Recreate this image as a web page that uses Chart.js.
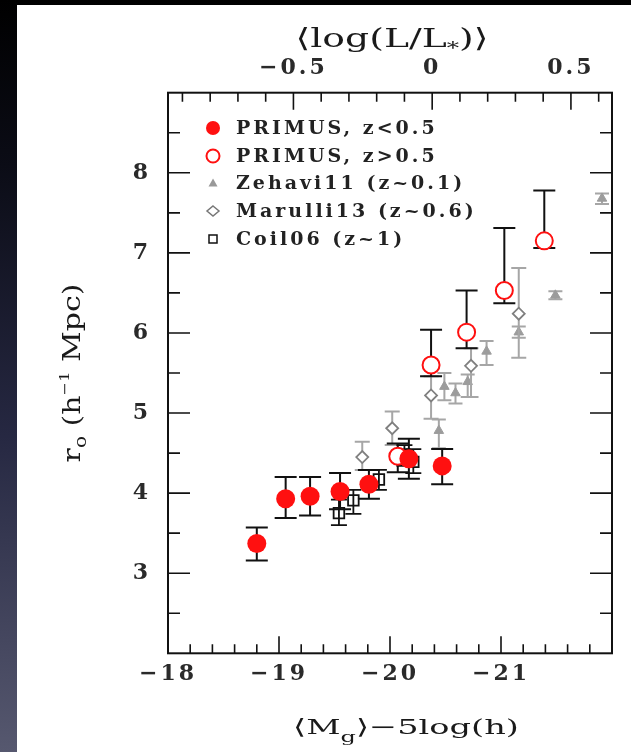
<!DOCTYPE html>
<html>
<head>
<meta charset="utf-8">
<script src="https://cdn.jsdelivr.net/npm/chart.js@4.4.1/dist/chart.umd.min.js"></script>
<style>
  html, body { margin: 0; padding: 0; }
  body {
    width: 631px; height: 752px; overflow: hidden; position: relative;
    background: linear-gradient(to bottom, #000 0%, #0b0c16 22%, #262842 58%, #56586f 100%);
  }
  #paper { position: absolute; left: 17px; top: 5px; width: 614px; height: 747px; background: #fff; }
  #wrap { position: absolute; left: 0; top: 0; width: 631px; height: 752px; }
</style>
</head>
<body>
<div id="paper"></div>
<div id="wrap"><canvas id="myChart"></canvas></div>
<script>
// PRIMUS, z<0.5
var primusLowMag = [-18.80, -19.06, -19.28, -19.55, -19.81, -20.17, -20.47];
var primusLowR0  = [3.37, 3.93, 3.96, 4.02, 4.11, 4.43, 4.34];
var primusLowLo  = [3.16, 3.69, 3.72, 3.80, 3.93, 4.18, 4.11];
var primusLowHi  = [3.57, 4.20, 4.20, 4.25, 4.29, 4.68, 4.55];

// PRIMUS, z>0.5
var primusHighMag = [-20.07, -20.37, -20.69, -21.03, -21.39];
var primusHighR0  = [4.46, 5.60, 6.01, 6.53, 7.15];
var primusHighLo  = [4.26, 5.46, 5.81, 6.37, 7.06];
var primusHighHi  = [4.62, 6.04, 6.53, 7.31, 7.78];

// Zehavi11 (z~0.1)
var zehaviMag = [-20.44, -20.49, -20.59, -20.70, -20.87, -21.16, -21.49, -21.91];
var zehaviR0  = [4.78, 5.33, 5.25, 5.39, 5.77, 6.01, 6.47, 7.68];
var zehaviLo  = [4.56, 5.16, 5.12, 5.20, 5.60, 5.94, 6.42, 7.61];
var zehaviHi  = [4.92, 5.50, 5.37, 5.48, 5.90, 6.08, 6.52, 7.74];

// Marulli13 (z~0.6)
var marulliMag = [-19.75, -20.02, -20.37, -20.73, -21.16];
var marulliR0  = [4.45, 4.81, 5.22, 5.59, 6.24];
var marulliLo  = [4.29, 4.60, 4.93, 5.20, 5.69];
var marulliHi  = [4.64, 5.02, 5.46, 5.81, 6.81];

// Coil06 (z~1)
var coilMag = [-19.54, -19.67, -19.90, -20.13, -20.21];
var coilR0  = [3.75, 3.91, 4.17, 4.48, 4.39];
var coilLo  = [3.60, 3.74, 4.04, 4.34, 4.25];
var coilHi  = [3.92, 4.04, 4.29, 4.60, 4.55];

// axis ticks
var magTicks = [-18, -19, -20, -21];
var lumTicks = [-0.5, 0, 0.5];
var r0Ticks  = [3, 4, 5, 6, 7, 8];

var legendLabels = ['PRIMUS, z<0.5', 'PRIMUS, z>0.5', 'Zehavi11 (z~0.1)', 'Marulli13 (z~0.6)', 'Coil06 (z~1)'];

var magMin = -22, magMax = -18, magStar = -20.38;
var serif = '"DejaVu Serif", "Liberation Serif", serif';

function pts(xs, ys) {
    return xs.map(function (x, i) { return { x: x, y: ys[i] }; });
}
function minus(v) {
    return String(v).replace('-', '\u2212');
}

// vertical bars with caps, drawn just before each dataset's markers
var errorBars = {
    id: 'errorBars',
    beforeDatasetDraw: function (chart, args) {
        var ds = chart.data.datasets[args.index];
        if (!ds.errLo) return;
        var ctx = chart.ctx, ys = chart.scales.y;
        ctx.save();
        ctx.strokeStyle = ds.errColor;
        ctx.lineWidth = ds.errWidth;
        args.meta.data.forEach(function (pt, i) {
            var top = ys.getPixelForValue(ds.errHi[i]);
            var bot = ys.getPixelForValue(ds.errLo[i]);
            var c = ds.capHalf;
            ctx.beginPath();
            ctx.moveTo(pt.x, top); ctx.lineTo(pt.x, bot);
            ctx.moveTo(pt.x - c, top); ctx.lineTo(pt.x + c, top);
            ctx.moveTo(pt.x - c, bot); ctx.lineTo(pt.x + c, bot);
            ctx.stroke();
        });
        ctx.restore();
    }
};

// text made of runs (sub/superscripts), centred on cx, stretched sideways by sx
function drawRuns(ctx, runs, cx, baseY, angle, sx) {
    ctx.save();
    ctx.translate(cx, baseY);
    ctx.rotate(angle);
    ctx.scale(sx, 1);
    ctx.textBaseline = 'alphabetic';
    ctx.textAlign = 'left';
    var total = 0;
    runs.forEach(function (r) {
        ctx.font = r.size + 'px ' + serif;
        r.w = ctx.measureText(r.t).width;
        total += r.w;
    });
    var x = -total / 2;
    runs.forEach(function (r) {
        ctx.font = r.size + 'px ' + serif;
        ctx.fillText(r.t, x, r.dy || 0);
        x += r.w;
    });
    ctx.restore();
}

function marker(ctx, kind, x, y) {
    ctx.beginPath();
    if (kind === 'dot') {
        ctx.fillStyle = '#ff1010';
        ctx.arc(x, y, 7, 0, Math.PI * 2);
        ctx.fill();
    } else if (kind === 'ring') {
        ctx.strokeStyle = '#ff1010'; ctx.lineWidth = 2;
        ctx.arc(x, y, 6.5, 0, Math.PI * 2);
        ctx.stroke();
    } else if (kind === 'tri') {
        ctx.fillStyle = '#999';
        ctx.moveTo(x, y - 4.5); ctx.lineTo(x + 4.5, y + 3.5); ctx.lineTo(x - 4.5, y + 3.5);
        ctx.closePath(); ctx.fill();
    } else if (kind === 'diamond') {
        ctx.strokeStyle = '#777'; ctx.lineWidth = 1.5;
        ctx.moveTo(x, y - 5); ctx.lineTo(x + 6, y); ctx.lineTo(x, y + 5); ctx.lineTo(x - 6, y);
        ctx.closePath(); ctx.stroke();
    } else {
        ctx.strokeStyle = '#111'; ctx.lineWidth = 1.5;
        ctx.rect(x - 4, y - 4, 8, 8);
        ctx.stroke();
    }
}

var decorations = {
    id: 'decorations',
    beforeDraw: function (chart) {
        chart.ctx.letterSpacing = '3px';
    },
    afterDraw: function (chart) {
        var ctx = chart.ctx, a = chart.chartArea;
        var xs = chart.scales.x, x2 = chart.scales.x2, ys = chart.scales.y;
        ctx.save();
        ctx.letterSpacing = '0px';
        ctx.strokeStyle = '#111';
        ctx.lineWidth = 1.6;
        ctx.beginPath();
        // bottom: magnitude, major every 1, minor every 0.2
        for (var k = 0; k <= 20; k++) {
            var px = xs.getPixelForValue(magMax - k * 0.2);
            var len = k % 5 === 0 ? 17 : 9;
            ctx.moveTo(px, a.bottom); ctx.lineTo(px, a.bottom - len);
        }
        // top: luminosity, major every 0.5, minor every 0.1
        for (k = -9; k <= 6; k++) {
            px = x2.getPixelForValue(k / 10);
            len = k % 5 === 0 ? 17 : 9;
            ctx.moveTo(px, a.top); ctx.lineTo(px, a.top + len);
        }
        // left and right: r0, major every 1, minor every 0.5
        for (k = 5; k <= 17; k++) {
            var py = ys.getPixelForValue(k / 2);
            len = k % 2 === 0 ? 22 : 12;
            ctx.moveTo(a.left, py); ctx.lineTo(a.left + len, py);
            ctx.moveTo(a.right, py); ctx.lineTo(a.right - len, py);
        }
        ctx.stroke();
        ctx.lineWidth = 2;
        ctx.strokeRect(a.left, a.top, a.right - a.left, a.bottom - a.top);

        // axis titles
        ctx.fillStyle = '#1a1a1a';
        drawRuns(ctx, [
            { t: '\u27E8M', size: 21 },
            { t: 'g', size: 15, dy: 8 },
            { t: '\u27E9\u22125log(h)', size: 21 }
        ], 406, 734, 0, 1.6);
        drawRuns(ctx, [
            { t: '\u27E8log(L/L', size: 26 },
            { t: '*', size: 17, dy: 7 },
            { t: ')\u27E9', size: 26 }
        ], 392, 47, 0, 1.45);
        drawRuns(ctx, [
            { t: 'r', size: 24 },
            { t: 'o', size: 16, dy: 6 },
            { t: ' (h', size: 24 },
            { t: '\u22121', size: 13, dy: -11 },
            { t: ' Mpc)', size: 24 }
        ], 80, 373, -Math.PI / 2, 1.25);

        // legend
        var kinds = ['dot', 'ring', 'tri', 'diamond', 'square'];
        var rows = [128, 156, 183, 211, 239];
        ctx.letterSpacing = '3px';
        ctx.font = 'bold 19px ' + serif;
        ctx.textBaseline = 'middle';
        ctx.textAlign = 'left';
        legendLabels.forEach(function (label, i) {
            marker(ctx, kinds[i], 213, rows[i]);
            ctx.fillStyle = '#222';
            ctx.fillText(label, 236, rows[i] + 1);
        });
        ctx.restore();
    }
};

var tickFont = { family: serif, size: 22, weight: 'bold' };
var tickColor = '#2a2a2a';

var ctx = document.getElementById('myChart').getContext('2d');
var myChart = new Chart(ctx, {
    type: 'scatter',
    data: {
        datasets: [{
            label: legendLabels[0],
            data: pts(primusLowMag, primusLowR0),
            errLo: primusLowLo, errHi: primusLowHi,
            errColor: '#111', errWidth: 2, capHalf: 11,
            pointStyle: 'circle', pointRadius: 9.5,
            backgroundColor: '#ff1010', borderColor: '#ff1010', borderWidth: 0
        }, {
            label: legendLabels[1],
            data: pts(primusHighMag, primusHighR0),
            errLo: primusHighLo, errHi: primusHighHi,
            errColor: '#111', errWidth: 2, capHalf: 11,
            pointStyle: 'circle', pointRadius: 8.5,
            backgroundColor: '#fff', borderColor: '#ff1010', borderWidth: 2
        }, {
            label: legendLabels[4],
            data: pts(coilMag, coilR0),
            errLo: coilLo, errHi: coilHi,
            errColor: '#111', errWidth: 1.8, capHalf: 8,
            pointStyle: 'rect', pointRadius: 7.5,
            backgroundColor: 'rgba(0,0,0,0)', borderColor: '#111', borderWidth: 1.8
        }, {
            label: legendLabels[3],
            data: pts(marulliMag, marulliR0),
            errLo: marulliLo, errHi: marulliHi,
            errColor: '#a6a6a6', errWidth: 2, capHalf: 7.5,
            pointStyle: 'rectRot', pointRadius: 6,
            backgroundColor: '#fff', borderColor: '#808080', borderWidth: 1.8
        }, {
            label: legendLabels[2],
            data: pts(zehaviMag, zehaviR0),
            errLo: zehaviLo, errHi: zehaviHi,
            errColor: '#a6a6a6', errWidth: 2, capHalf: 7,
            pointStyle: 'triangle', pointRadius: 5.5,
            backgroundColor: '#9c9c9c', borderColor: '#9c9c9c', borderWidth: 1
        }]
    },
    options: {
        responsive: true,
        maintainAspectRatio: false,
        animation: false,
        devicePixelRatio: 1,
        layout: { padding: { left: 0, right: 19, top: 0, bottom: 0 } },
        plugins: {
            legend: { display: false },
            tooltip: { enabled: false }
        },
        scales: {
            x: {
                type: 'linear', position: 'bottom',
                min: magMin, max: magMax, reverse: true,
                grid: { display: false, drawTicks: false },
                border: { display: false },
                afterBuildTicks: function (s) { s.ticks = magTicks.map(function (v) { return { value: v }; }); },
                afterFit: function (s) { s.height = 98.7; },
                ticks: {
                    font: tickFont, color: tickColor, padding: 8,
                    maxRotation: 0, autoSkip: false,
                    callback: function (v) { return minus(v); }
                }
            },
            x2: {
                type: 'linear', axis: 'x', position: 'top',
                min: (magStar - magMax) / 2.5, max: (magStar - magMin) / 2.5,
                grid: { display: false, drawTicks: false },
                border: { display: false },
                afterBuildTicks: function (s) { s.ticks = lumTicks.map(function (v) { return { value: v }; }); },
                afterFit: function (s) { s.height = 92.7; },
                ticks: {
                    font: tickFont, color: tickColor, padding: 11,
                    maxRotation: 0, autoSkip: false,
                    callback: function (v) { return minus(v); }
                }
            },
            y: {
                type: 'linear', position: 'left',
                min: 2, max: 9,
                grid: { display: false, drawTicks: false },
                border: { display: false },
                afterBuildTicks: function (s) { s.ticks = r0Ticks.map(function (v) { return { value: v }; }); },
                afterFit: function (s) { s.width = 168; },
                ticks: { font: tickFont, color: tickColor, padding: 17 }
            }
        }
    },
    plugins: [errorBars, decorations]
});
</script>
</body>
</html>
